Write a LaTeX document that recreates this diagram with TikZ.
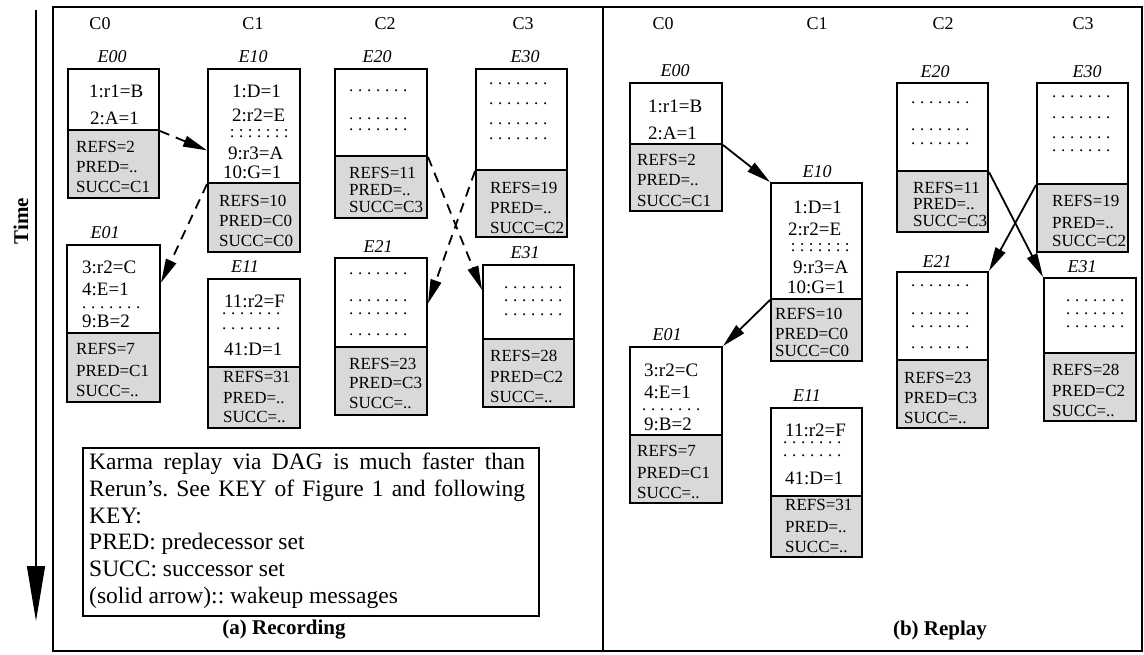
\documentclass[tikz,border=0pt]{standalone}
\usepackage{fontspec}
\setmainfont{Liberation Serif}
\usetikzlibrary{arrows.meta,fit,calc}
\definecolor{boxgray}{RGB}{217,217,217}
\newcommand\dotcell{\makebox[9pt]{.}}
\newcommand\colcell{\makebox[9pt]{:}}
\newcommand\dotrow{\dotcell\dotcell\dotcell\dotcell\dotcell\dotcell\dotcell}
\newcommand\colrow{\colcell\colcell\colcell\colcell\colcell\colcell\colcell}
\newcommand\evbox[6]{%
  \node[topbox, fit={(#2,#4)(#3,#5)}] (#1t) {};
  \node[botbox, fit={(#2,#5)(#3,#6)}] (#1b) {};}
\newcommand\boxline[4]{\node[tx] (#1) at (#2,#3) {#4};}
\newcommand\upline[4]{\node[tx, font=\fontsize{19}{21}\selectfont] (#1) at (#2,#3) {#4};}
\tikzset{
  topbox/.style={draw, line width=2pt, fill=white, inner sep=0pt},
  botbox/.style={draw, line width=2pt, fill=boxgray, inner sep=0pt},
  tx/.style={anchor=base west, inner sep=0pt, font=\fontsize{17}{20}\selectfont},
  hdr/.style={inner sep=0pt, font=\fontsize{18}{20}\selectfont},
  elab/.style={inner sep=0pt, font=\fontsize{18}{20}\selectfont\itshape},
  captxt/.style={inner sep=0pt, font=\fontsize{21}{24}\selectfont\bfseries},
  panel/.style={draw, line width=1.5pt, inner sep=0pt},
  darr/.style={line width=1.8pt, dash pattern=on 10pt off 7pt, -{Triangle[length=24pt,width=11pt]}},
  sarr/.style={line width=1.8pt, -{Triangle[length=24pt,width=11pt]}}
}
\begin{document}
\begin{tikzpicture}[x=1pt,y=-1pt]
\useasboundingbox (0,0) rectangle (1144,654);
% panels
\node[panel, fit={(53,7)(603,651)}] (PanelA) {};
\node[panel, fit={(603,7)(1142,651)}] (PanelB) {};
% time axis
\coordinate (ttop) at (36,10);
\coordinate (tbot) at (36,621);
\draw[line width=1.5pt, -{Triangle[length=55pt,width=18pt]}] (ttop) -- (tbot);
\node[captxt, rotate=90] (TimeLbl) at (21,221) {Time};
% ---------------- (a) Recording ----------------
\node[hdr] (LC0) at (100,24) {C0};
\node[hdr] (LC1) at (253,24) {C1};
\node[hdr] (LC2) at (385,24) {C2};
\node[hdr] (LC3) at (523,24) {C3};
% E00
\evbox{L00}{68}{159}{69}{130}{198}
\node[elab] (L00l) at (112,57) {E00};
\upline{L00-1}{89}{97}{1:r1=B}
\upline{L00-2}{90}{124}{2:A=1}
\boxline{L00-3}{76}{152}{REFS=2}
\boxline{L00-4}{76}{172}{PRED=..}
\boxline{L00-5}{76}{192}{SUCC=C1}
% E10
\evbox{L10}{208}{300}{69}{183}{252}
\node[elab] (L10l) at (253,57) {E10};
\upline{L10-1}{232}{97}{1:D=1}
\upline{L10-2}{232}{121}{2:r2=E}
\boxline{L10-3}{227.5}{137}{\colrow}
\upline{L10-4}{228}{159}{9:r3=A}
\upline{L10-5}{223}{178}{10:G=1}
\boxline{L10-6}{219}{206}{REFS=10}
\boxline{L10-7}{219}{226}{PRED=C0}
\boxline{L10-8}{219}{246}{SUCC=C0}
% E20
\evbox{L20}{335}{427}{69}{156}{218}
\node[elab] (L20l) at (377,57) {E20};
\boxline{L20-1}{346.5}{91}{\dotrow}
\boxline{L20-2}{346.5}{119}{\dotrow}
\boxline{L20-3}{346.5}{130}{\dotrow}
\boxline{L20-4}{349}{178}{REFS=11}
\boxline{L20-5}{349}{195}{PRED=..}
\boxline{L20-6}{349}{212}{SUCC=C3}
% E30
\evbox{L30}{476}{567}{69}{170}{237}
\node[elab] (L30l) at (525,57) {E30};
\boxline{L30-1}{486.5}{84}{\dotrow}
\boxline{L30-2}{486.5}{104}{\dotrow}
\boxline{L30-3}{486.5}{124}{\dotrow}
\boxline{L30-4}{486.5}{139}{\dotrow}
\boxline{L30-5}{490}{193}{REFS=19}
\boxline{L30-6}{490}{213}{PRED=..}
\boxline{L30-7}{490}{233}{SUCC=C2}
% E01
\evbox{L01}{67}{160}{245}{333}{402}
\node[elab] (L01l) at (105,233) {E01};
\upline{L01-1}{82}{273}{3:r2=C}
\upline{L01-2}{82}{295}{4:E=1}
\boxline{L01-3}{79.5}{308}{\dotrow}
\upline{L01-4}{82}{327}{9:B=2}
\boxline{L01-5}{76}{354}{REFS=7}
\boxline{L01-6}{76}{376}{PRED=C1}
\boxline{L01-7}{76}{396}{SUCC=..}
% E11
\evbox{L11}{208}{300}{279}{367}{428}
\node[elab] (L11l) at (245,267) {E11};
\upline{L11-1}{224}{307}{11:r2=F}
\boxline{L11-2}{219.5}{314}{\dotrow}
\boxline{L11-3}{219.5}{329}{\dotrow}
\upline{L11-4}{224}{355}{41:D=1}
\boxline{L11-5}{223}{382}{REFS=31}
\boxline{L11-6}{223}{403}{PRED=..}
\boxline{L11-7}{223}{422}{SUCC=..}
% E21
\evbox{L21}{335}{427}{258}{347}{415}
\node[elab] (L21l) at (378,247) {E21};
\boxline{L21-1}{346.5}{274}{\dotrow}
\boxline{L21-2}{346.5}{301}{\dotrow}
\boxline{L21-3}{346.5}{314}{\dotrow}
\boxline{L21-4}{346.5}{335}{\dotrow}
\boxline{L21-5}{349}{369}{REFS=23}
\boxline{L21-6}{349}{388}{PRED=C3}
\boxline{L21-7}{349}{408}{SUCC=..}
% E31
\evbox{L31}{483}{574}{265}{339}{407}
\node[elab] (L31l) at (525,253) {E31};
\boxline{L31-1}{501.5}{288}{\dotrow}
\boxline{L31-2}{501.5}{301}{\dotrow}
\boxline{L31-3}{501.5}{315}{\dotrow}
\boxline{L31-4}{490}{361}{REFS=28}
\boxline{L31-5}{490}{382}{PRED=C2}
\boxline{L31-6}{490}{402}{SUCC=..}
% dashed arrows
\draw[darr] (L00t.south east) -- ($(L10t.north west)!0.71!(L10t.south west)$);
\draw[darr] (L10t.south west) -- ($(L01t.north east)!0.43!(L01t.south east)$);
\draw[darr] (L20t.south east) -- ($(L31t.north west)!0.34!(L31t.south west)$);
\draw[darr] (L30t.south west) -- ($(L21t.north east)!0.51!(L21t.south east)$);
% key box
\node[draw, line width=1.5pt, inner sep=0pt, fit={(83,448)(539,616)}] (KeyBox) {};
\node[anchor=north west, inner sep=0pt, text width=436pt, align=justify,
      font=\fontsize{23.5}{26.7}\selectfont] (KeyText) at (89,453)
  {\hyphenpenalty=10000\relax\exhyphenpenalty=10000\relax\frenchspacing
   Karma replay via DAG is much faster than Rerun's. See KEY of Figure 1 and following KEY:\\
   PRED: predecessor set\\
   SUCC: successor set\\
   (solid arrow):: wakeup messages};
\node[captxt] (CapA) at (284,630) {(a) Recording};
% ---------------- (b) Replay ----------------
\node[hdr] (RC0) at (663,24) {C0};
\node[hdr] (RC1) at (817,24) {C1};
\node[hdr] (RC2) at (943,24) {C2};
\node[hdr] (RC3) at (1083,24) {C3};
% E00
\evbox{R00}{630}{722}{83}{144}{211}
\node[elab] (R00l) at (675,71) {E00};
\upline{R00-1}{648}{112}{1:r1=B}
\upline{R00-2}{648}{139}{2:A=1}
\boxline{R00-3}{637}{165}{REFS=2}
\boxline{R00-4}{637}{185}{PRED=..}
\boxline{R00-5}{637}{206}{SUCC=C1}
% E10
\evbox{R10}{771}{862}{183}{299}{361}
\node[elab] (R10l) at (817,172) {E10};
\upline{R10-1}{793}{213}{1:D=1}
\upline{R10-2}{788}{235}{2:r2=E}
\boxline{R10-3}{788.5}{251}{\colrow}
\upline{R10-4}{793}{273}{9:r3=A}
\upline{R10-5}{787}{293}{10:G=1}
\boxline{R10-6}{775}{319}{REFS=10}
\boxline{R10-7}{775}{339}{PRED=C0}
\boxline{R10-8}{775}{356}{SUCC=C0}
% E20
\evbox{R20}{897}{988}{83}{171}{232}
\node[elab] (R20l) at (935,72) {E20};
\boxline{R20-1}{908.5}{103}{\dotrow}
\boxline{R20-2}{908.5}{130}{\dotrow}
\boxline{R20-3}{908.5}{144}{\dotrow}
\boxline{R20-4}{913}{193}{REFS=11}
\boxline{R20-5}{913}{209}{PRED=..}
\boxline{R20-6}{913}{226}{SUCC=C3}
% E30
\evbox{R30}{1037}{1128}{83}{184}{252}
\node[elab] (R30l) at (1087,72) {E30};
\boxline{R30-1}{1049.5}{97}{\dotrow}
\boxline{R30-2}{1049.5}{118}{\dotrow}
\boxline{R30-3}{1049.5}{138}{\dotrow}
\boxline{R30-4}{1049.5}{151}{\dotrow}
\boxline{R30-5}{1052}{206}{REFS=19}
\boxline{R30-6}{1052}{228}{PRED=..}
\boxline{R30-7}{1052}{246}{SUCC=C2}
% E21
\evbox{R21}{897}{988}{272}{360}{428}
\node[elab] (R21l) at (937,262) {E21};
\boxline{R21-1}{908.5}{286}{\dotrow}
\boxline{R21-2}{908.5}{314}{\dotrow}
\boxline{R21-3}{908.5}{327}{\dotrow}
\boxline{R21-4}{908.5}{348}{\dotrow}
\boxline{R21-5}{904}{383}{REFS=23}
\boxline{R21-6}{904}{403}{PRED=C3}
\boxline{R21-7}{904}{423}{SUCC=..}
% E31
\evbox{R31}{1044}{1136}{278}{353}{421}
\node[elab] (R31l) at (1082,267) {E31};
\boxline{R31-1}{1063.5}{301}{\dotrow}
\boxline{R31-2}{1063.5}{314}{\dotrow}
\boxline{R31-3}{1063.5}{327}{\dotrow}
\boxline{R31-4}{1052}{375}{REFS=28}
\boxline{R31-5}{1052}{396}{PRED=C2}
\boxline{R31-6}{1052}{416}{SUCC=..}
% E01
\evbox{R01}{630}{722}{347}{435}{503}
\node[elab] (R01l) at (667,335) {E01};
\upline{R01-1}{644}{376}{3:r2=C}
\upline{R01-2}{644}{398}{4:E=1}
\boxline{R01-3}{639.5}{410}{\dotrow}
\upline{R01-4}{644}{430}{9:B=2}
\boxline{R01-5}{637}{456}{REFS=7}
\boxline{R01-6}{637}{478}{PRED=C1}
\boxline{R01-7}{637}{498}{SUCC=..}
% E11
\evbox{R11}{771}{862}{408}{496}{557}
\node[elab] (R11l) at (807,396) {E11};
\upline{R11-1}{785}{436}{11:r2=F}
\boxline{R11-2}{780.5}{443}{\dotrow}
\boxline{R11-3}{780.5}{456}{\dotrow}
\upline{R11-4}{785}{484}{41:D=1}
\boxline{R11-5}{785}{510}{REFS=31}
\boxline{R11-6}{785}{532}{PRED=..}
\boxline{R11-7}{785}{552}{SUCC=..}
% solid arrows
\draw[sarr] (R00t.south east) -- (R10t.north west);
\draw[sarr] (R10t.south west) -- (R01t.north east);
\draw[sarr] (R20t.south east) -- (R31t.north west);
\draw[sarr] (R30t.south west) -- (R21t.north east);
\node[captxt] (CapB) at (940,630) {(b) Replay};
\end{tikzpicture}
\end{document}
